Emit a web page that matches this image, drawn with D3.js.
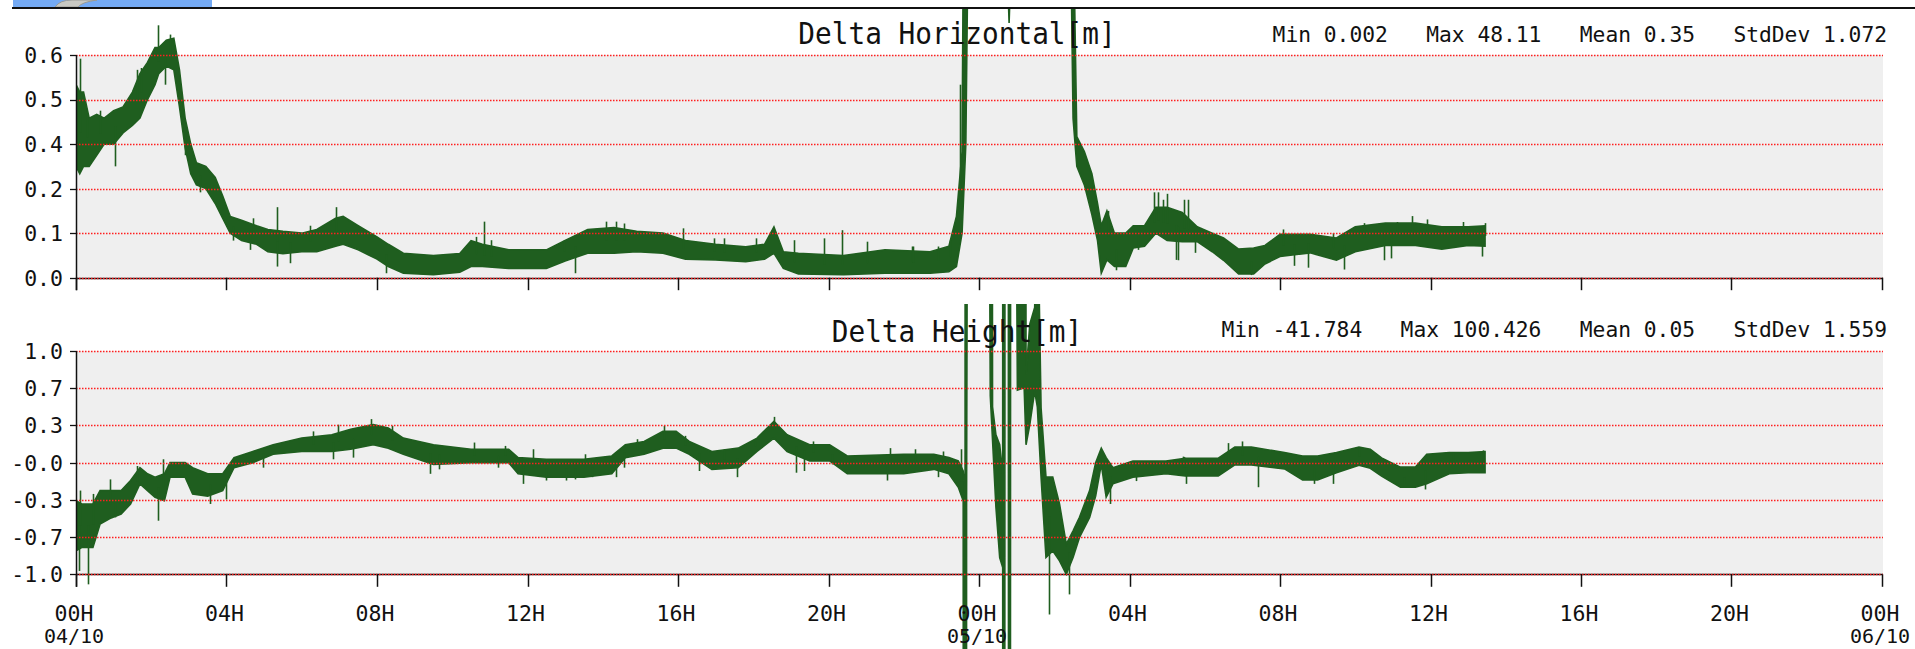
<!DOCTYPE html>
<html>
<head>
<meta charset="utf-8">
<script src="https://cdn.jsdelivr.net/npm/d3@7/dist/d3.min.js"></script>
<style>
  html, body { margin: 0; padding: 0; background: #ffffff; }
  svg { display: block; }
  text { font-family: "DejaVu Sans Mono", "Liberation Mono", monospace; fill: #111; }
</style>
</head>
<body>
<svg id="chart" width="1915" height="649"></svg>
<script>
// ---- data: hours since 04/10 00H, min/max envelope of each series ----
const horizHours = [0, 0.1, 0.2, 0.35, 0.55, 0.75, 1.0, 1.25, 1.5, 1.7, 1.9, 2.1, 2.2, 2.4, 2.6, 2.75, 2.9, 3.05, 3.2, 3.45,
  3.7, 3.9, 4.1, 4.4, 4.8, 5.1, 5.5, 6.0, 6.4, 6.9, 7.1, 7.5, 8.0, 8.3, 8.7, 9.5, 10.2, 10.5, 10.8, 11.5,
  12.5, 13.0, 13.6, 14.3, 14.9, 15.6, 16.2, 17.0, 17.8, 18.3, 18.55, 18.8, 19.2, 20.4, 21.5, 22.7, 23.2, 23.4, 23.55, 23.65,
  23.72, 24.7, 24.8, 24.9, 26.4, 26.5, 26.6, 26.8, 27.0, 27.15, 27.25, 27.4, 27.6, 27.9, 28.1, 28.4, 28.7, 29.0, 29.4, 29.8,
  30.2, 30.5, 30.9, 31.3, 31.6, 32.0, 32.8, 33.5, 34.0, 34.8, 35.6, 36.3, 37.0, 37.45];
const horizLow = [0.30, 0.28, 0.30, 0.30, 0.33, 0.36, 0.36, 0.39, 0.41, 0.43, 0.48, 0.52, 0.55, 0.57, 0.56, 0.46, 0.35, 0.28, 0.25, 0.24,
  0.20, 0.16, 0.12, 0.10, 0.09, 0.07, 0.065, 0.07, 0.07, 0.085, 0.09, 0.075, 0.05, 0.03, 0.012, 0.008, 0.015, 0.03, 0.03, 0.025,
  0.025, 0.045, 0.066, 0.066, 0.07, 0.066, 0.05, 0.048, 0.043, 0.05, 0.066, 0.025, 0.01, 0.008, 0.012, 0.012, 0.016, 0.03, 0.12, 0.36,
  1.0, 1.0, 0.686, 1.0, 1.2, 0.43, 0.30, 0.25, 0.17, 0.10, 0.012, 0.048, 0.03, 0.03, 0.08, 0.085, 0.12, 0.10, 0.097, 0.097,
  0.07, 0.047, 0.01, 0.01, 0.037, 0.057, 0.067, 0.047, 0.07, 0.087, 0.087, 0.077, 0.087, 0.085];
const horizHigh = [0.52, 0.50, 0.50, 0.43, 0.44, 0.43, 0.45, 0.46, 0.50, 0.55, 0.58, 0.62, 0.62, 0.64, 0.645, 0.56, 0.43, 0.36, 0.31, 0.30,
  0.27, 0.22, 0.165, 0.155, 0.14, 0.13, 0.125, 0.12, 0.13, 0.16, 0.165, 0.14, 0.11, 0.09, 0.066, 0.06, 0.065, 0.10, 0.09, 0.075,
  0.075, 0.10, 0.13, 0.135, 0.125, 0.12, 0.10, 0.09, 0.083, 0.09, 0.137, 0.07, 0.066, 0.06, 0.075, 0.07, 0.085, 0.165, 0.34, 2.0,
  48.11, 20, 15, 20, 10, 1.0, 0.38, 0.34, 0.28, 0.20, 0.14, 0.18, 0.12, 0.12, 0.14, 0.14, 0.19, 0.19, 0.176, 0.137,
  0.12, 0.107, 0.077, 0.08, 0.087, 0.117, 0.117, 0.107, 0.137, 0.147, 0.147, 0.137, 0.137, 0.14];
// short excursions outside the envelope: [hour, value]
const horizNeedles = [[0.106, 0.59], [0.30, 0.44], [0.64, 0.45], [1.04, 0.30], [1.61, 0.56], [1.74, 0.565], [2.19, 0.68],
  [2.50, 0.655], [2.36, 0.52], [2.90, 0.33], [3.29, 0.23], [4.18, 0.10], [4.62, 0.075], [4.71, 0.16], [5.33, 0.19], [5.33, 0.03],
  [5.68, 0.039], [6.22, 0.14], [6.92, 0.19], [8.25, 0.012], [10.62, 0.110], [10.85, 0.151], [11.02, 0.101], [12.96, 0.101],
  [13.25, 0.012], [14.08, 0.151], [14.34, 0.151], [14.57, 0.146], [16.12, 0.133], [16.95, 0.106], [17.23, 0.106], [18.08, 0.106],
  [19.08, 0.101], [19.89, 0.106], [20.36, 0.128], [21.03, 0.097], [22.21, 0.084], [22.24, 0.084], [22.91, 0.084], [23.22, 0.10],
  [23.5, 0.52], [27.42, 0.18], [27.65, 0.02], [28.22, 0.075], [28.66, 0.23], [28.89, 0.21], [29.24, 0.048], [29.46, 0.21],
  [28.76, 0.23], [29.0, 0.226], [29.3, 0.047], [29.55, 0.21], [29.74, 0.067], [31.24, 0.007], [32.08, 0.13], [32.38, 0.032],
  [32.74, 0.027], [33.4, 0.12], [33.7, 0.022], [34.23, 0.147], [34.76, 0.047], [34.94, 0.052], [35.11, 0.15], [35.51, 0.166],
  [35.9, 0.157], [36.87, 0.15], [37.36, 0.057], [37.44, 0.147]];

const heightHours = [0, 0.15, 0.45, 0.64, 0.9, 1.2, 1.45, 1.7, 1.9, 2.1, 2.35, 2.5, 2.9, 3.1, 3.5, 3.9, 4.2, 4.7, 5.24, 6.0,
  6.8, 7.3, 7.9, 8.3, 8.7, 9.5, 10.5, 11.5, 11.75, 12.5, 13.5, 14.24, 14.6, 15.1, 15.6, 15.95, 16.3, 16.9, 17.6, 18.1,
  18.55, 18.9, 19.5, 20.03, 20.5, 22.0, 22.8, 23.2, 23.45, 23.58, 23.63, 23.67, 23.71, 24.24, 24.3, 24.36, 24.45, 24.55, 24.63, 24.66,
  24.69, 24.78, 24.81, 24.84, 24.98, 25.02, 25.2, 25.25, 25.35, 25.48, 25.55, 25.65, 25.78, 25.96, 26.14, 26.32, 26.5, 26.67, 26.94, 27.1,
  27.25, 27.38, 27.56, 28.09, 28.97, 29.48, 30.36, 30.8, 31.24, 32.12, 32.6, 33.0, 33.5, 34.1, 34.4, 34.7, 35.2, 35.6, 35.9, 36.5,
  37.0, 37.45];
const heightLow = [-0.79, -0.76, -0.76, -0.55, -0.50, -0.46, -0.37, -0.19, -0.25, -0.31, -0.34, -0.13, -0.13, -0.28, -0.30, -0.25, -0.045, 0.0, 0.075, 0.10,
  0.10, 0.12, 0.16, 0.13, 0.075, -0.015, 0.0, 0.0, -0.10, -0.13, -0.13, -0.10, 0.045, 0.075, 0.13, 0.13, 0.075, -0.06, -0.045, 0.10,
  0.22, 0.10, 0.015, 0.015, -0.10, -0.10, -0.06, -0.10, -0.22, -0.34, -41.784, -0.3, 5, 5, 0.6, 0.2, -0.4, -0.85, -0.94, -35,
  3, 3, -38, 3, 3, 0.65, 0.67, 0.16, 0.34, 0.64, 0.5, -0.13, -0.85, -0.79, -0.88, -1.0, -0.85, -0.67, -0.49, -0.3,
  -0.015, -0.31, -0.19, -0.13, -0.10, -0.12, -0.12, -0.02, -0.02, -0.056, -0.155, -0.155, -0.09, -0.023, -0.05, -0.12, -0.22, -0.22, -0.19, -0.10,
  -0.09, -0.09];
const heightHigh = [-0.34, -0.37, -0.37, -0.25, -0.25, -0.25, -0.16, -0.045, -0.10, -0.13, -0.10, 0.0, 0.0, -0.045, -0.10, -0.10, 0.045, 0.10, 0.16, 0.22,
  0.25, 0.30, 0.34, 0.31, 0.22, 0.16, 0.12, 0.12, 0.045, 0.03, 0.03, 0.06, 0.16, 0.19, 0.28, 0.28, 0.19, 0.10, 0.13, 0.22,
  0.37, 0.25, 0.16, 0.16, 0.06, 0.075, 0.075, 0.045, 0.015, -0.075, -0.3, 100.426, 60, 40, 20, 0.5, 0.25, 0.16, -0.1, 70,
  40, 40, 60, 40, 40, 30, 20, 0.79, 1.24, 1.39, 2.5, 0.49, -0.13, -0.13, -0.37, -0.73, -0.61, -0.49, -0.25, 0.0,
  0.13, 0.045, -0.045, 0.015, 0.015, 0.04, 0.04, 0.14, 0.14, 0.09, 0.06, 0.06, 0.09, 0.14, 0.12, 0.043, -0.04, -0.04, 0.076, 0.09,
  0.09, 0.10];
const heightNeedles = [[0.08, -0.97], [0.106, -0.25], [0.33, -1.09], [0.46, -0.28], [0.9, -0.15], [1.04, -0.49], [1.61, -0.03],
  [2.19, -0.52], [2.32, 0.03], [3.56, -0.37], [4.0, -0.33], [4.97, -0.045], [6.3, 0.28], [6.97, 0.34], [6.84, 0.03], [7.85, 0.39],
  [7.37, 0.045], [8.41, 0.33], [9.40, -0.10], [9.64, -0.06], [10.59, 0.18], [11.21, -0.045], [11.4, 0.15], [11.87, -0.19],
  [12.15, 0.12], [12.49, -0.16], [13.01, -0.16], [13.25, -0.15], [13.53, 0.075], [13.72, -0.13], [14.34, -0.13], [14.57, -0.045],
  [14.91, 0.21], [15.62, 0.33], [16.19, 0.24], [16.57, -0.075], [17.23, 0.12], [17.56, -0.13], [18.04, 0.19], [18.56, 0.41],
  [19.13, -0.09], [19.36, -0.075], [19.6, 0.19], [20.08, -0.015], [21.64, 0.13], [22.31, 0.12], [21.55, -0.16], [22.92, -0.13],
  [23.04, 0.1], [23.53, 0.12], [27.47, -0.37], [28.18, -0.165], [29.42, 0.054], [29.5, -0.19], [29.44, 0.05], [30.62, 0.175],
  [30.98, 0.19], [31.42, -0.22], [32.91, -0.19], [33.4, -0.19], [34.1, 0.14], [35.29, -0.2], [35.86, -0.24], [36.6, 0.09],
  [37.4, 0.11], [25.85, -1.36], [26.4, -1.18]];

// ---- axis ticks and labels ----
const horizTicks = [0, 0.12, 0.24, 0.36, 0.48, 0.6];
const horizTickLabels = ["0.0", "0.1", "0.2", "0.4", "0.5", "0.6"];
const heightTicks = [-1, -2 / 3, -1 / 3, 0, 1 / 3, 2 / 3, 1];
const heightTickLabels = ["-1.0", "-0.7", "-0.3", "-0.0", "0.3", "0.7", "1.0"];

// ---- titles and summary statistics ----
const statNames = ["Min", "Max", "Mean", "StdDev"];
const horizStats = [0.002, 48.11, 0.35, 1.072];
const heightStats = [-41.784, 100.426, 0.05, 1.559];

// ---- layout ----
const svg = d3.select("#chart");
const startTime = Date.UTC(2021, 9, 4, 0, 0, 0);
const hourMs = 3600 * 1000;
const plotLeft = 76, plotRight = 1883;
const green = "#1f5e1f";
const toDate = h => new Date(startTime + h * hourMs);

const x = d3.scaleUtc()
  .domain([toDate(0), toDate(48)])
  .range([plotLeft, 1882]);
const xTicks = x.ticks(d3.utcHour.every(4));

// window chrome strip along the top edge
svg.append("rect").attr("x", 13).attr("y", 0).attr("width", 199).attr("height", 7).attr("fill", "#74aaf4");
svg.append("path").attr("d", "M55,7 Q60,0 72,0 L97,0 Q82,2 78,7 Z").attr("fill", "#c8c8c2").attr("stroke", "#9a9a94").attr("stroke-width", 1);
svg.append("rect").attr("x", 12).attr("y", 7).attr("width", 1903).attr("height", 2).attr("fill", "#111");

const panels = [
  { id: "horiz", title: "Delta Horizontal[m]", stats: horizStats, hours: horizHours, low: horizLow, high: horizHigh,
    needles: horizNeedles, ticks: horizTicks, tickLabels: horizTickLabels, domain: [0, 0.6],
    top: 55, bottom: 277.7, clipTop: 9, clipBottom: 291, titleBase: 44.3, statsBase: 41.7, xLabels: false },
  { id: "height", title: "Delta Height[m]", stats: heightStats, hours: heightHours, low: heightLow, high: heightHigh,
    needles: heightNeedles, ticks: heightTicks, tickLabels: heightTickLabels, domain: [-1, 1],
    top: 351, bottom: 574.3, clipTop: 304, clipBottom: 649, titleBase: 341.7, statsBase: 336.7, xLabels: true }
];

const px = v => Math.round(v) + 0.5;
const bisectHour = d3.bisector(d => d).left;

panels.forEach(p => {
  const y = d3.scaleLinear().domain(p.domain).range([p.bottom, p.top]);
  const g = svg.append("g").attr("class", "panel-" + p.id);

  // plot background
  g.append("rect")
    .attr("x", plotLeft).attr("y", p.top)
    .attr("width", plotRight - plotLeft).attr("height", p.bottom - p.top)
    .attr("fill", "#efefef");

  // x axis baseline
  g.append("line")
    .attr("x1", plotLeft).attr("x2", plotRight)
    .attr("y1", px(p.bottom)).attr("y2", px(p.bottom))
    .attr("stroke", "#111").attr("stroke-width", 1.5);

  // series, clipped to the panel drawing area
  const clipId = "clip-" + p.id;
  svg.append("defs").append("clipPath").attr("id", clipId)
    .append("rect").attr("x", plotLeft).attr("y", p.clipTop)
    .attr("width", plotRight - plotLeft + 1).attr("height", p.clipBottom - p.clipTop);

  const rows = p.hours.map((h, i) => ({ t: toDate(h), lo: p.low[i], hi: p.high[i] }));
  const band = d3.area()
    .x(d => x(d.t))
    .y0(d => y(d.lo))
    .y1(d => y(d.hi));
  const dataG = g.append("g").attr("clip-path", `url(#${clipId})`);
  dataG.append("path")
    .datum(rows)
    .attr("d", band)
    .attr("fill", green)
    .attr("stroke", green)
    .attr("stroke-width", 1.6)
    .attr("stroke-linejoin", "miter");

  // needle start: centre of the envelope at that hour
  const envelopeMid = h => {
    const i = Math.min(Math.max(bisectHour(p.hours, h), 1), p.hours.length - 1);
    const h0 = p.hours[i - 1], h1 = p.hours[i];
    const f = Math.max(0, Math.min(1, (h - h0) / (h1 - h0)));
    const lo = p.low[i - 1] + f * (p.low[i] - p.low[i - 1]);
    const hi = p.high[i - 1] + f * (p.high[i] - p.high[i - 1]);
    return (lo + hi) / 2;
  };
  dataG.selectAll("line.needle")
    .data(p.needles)
    .join("line")
    .attr("class", "needle")
    .attr("x1", d => Math.round(x(toDate(d[0]))) + 0.5)
    .attr("x2", d => Math.round(x(toDate(d[0]))) + 0.5)
    .attr("y1", d => y(envelopeMid(d[0])))
    .attr("y2", d => y(d[1]))
    .attr("stroke", green)
    .attr("stroke-width", 1.6);

  // horizontal grid (dotted red), drawn over the series
  g.selectAll("line.grid")
    .data(p.ticks)
    .join("line")
    .attr("class", "grid")
    .attr("x1", plotLeft).attr("x2", plotRight)
    .attr("y1", d => px(y(d))).attr("y2", d => px(y(d)))
    .attr("stroke", "#ff1f1f")
    .attr("stroke-width", 1.4)
    .attr("stroke-dasharray", "1.5,1.5");

  // y axis line and ticks
  g.append("line")
    .attr("x1", px(plotLeft)).attr("x2", px(plotLeft))
    .attr("y1", p.top).attr("y2", p.bottom + 12.5)
    .attr("stroke", "#111").attr("stroke-width", 1.5);
  g.selectAll("line.ytick")
    .data(p.ticks)
    .join("line")
    .attr("class", "ytick")
    .attr("x1", plotLeft - 6).attr("x2", plotLeft)
    .attr("y1", d => px(y(d))).attr("y2", d => px(y(d)))
    .attr("stroke", "#111").attr("stroke-width", 1.3);
  g.selectAll("text.ylabel")
    .data(p.ticks)
    .join("text")
    .attr("class", "ylabel")
    .attr("x", 63)
    .attr("y", d => y(d) + 7.9)
    .attr("text-anchor", "end")
    .style("font-size", "21.5px")
    .text((d, i) => p.tickLabels[i]);

  // x ticks
  g.selectAll("line.xtick")
    .data(xTicks)
    .join("line")
    .attr("class", "xtick")
    .attr("x1", d => px(x(d))).attr("x2", d => px(x(d)))
    .attr("y1", p.bottom).attr("y2", p.bottom + 12.5)
    .attr("stroke", "#111").attr("stroke-width", 1.5);

  if (p.xLabels) {
    const fmtHour = d3.utcFormat("%HH");
    const fmtDay = d3.utcFormat("%d/%m");
    g.selectAll("text.xlabel")
      .data(xTicks)
      .join("text")
      .attr("class", "xlabel")
      .attr("x", d => x(d) - 2)
      .attr("y", 621)
      .attr("text-anchor", "middle")
      .style("font-size", "21.5px")
      .text(d => fmtHour(d));
    g.selectAll("text.xday")
      .data(xTicks.filter(d => d.getUTCHours() === 0))
      .join("text")
      .attr("class", "xday")
      .attr("x", d => x(d) - 2)
      .attr("y", 643)
      .attr("text-anchor", "middle")
      .style("font-size", "20px")
      .text(d => fmtDay(d));
  }

  // title, centred on the page
  const titleLen = p.title.length * 16.7;
  g.append("text")
    .attr("x", 957 - titleLen / 2)
    .attr("y", p.titleBase)
    .attr("textLength", titleLen)
    .attr("lengthAdjust", "spacingAndGlyphs")
    .style("font-size", "30px")
    .text(p.title);

  // summary statistics, right aligned to the plot edge
  const statText = statNames.map((n, i) => n + "\u00a0" + String(p.stats[i])).join("\u00a0\u00a0\u00a0");
  const statLen = statText.length * 12.8;
  g.append("text")
    .attr("x", 1887 - statLen)
    .attr("y", p.statsBase)
    .attr("textLength", statLen)
    .attr("lengthAdjust", "spacingAndGlyphs")
    .style("font-size", "21.5px")
    .text(statText);
});
</script>
</body>
</html>
